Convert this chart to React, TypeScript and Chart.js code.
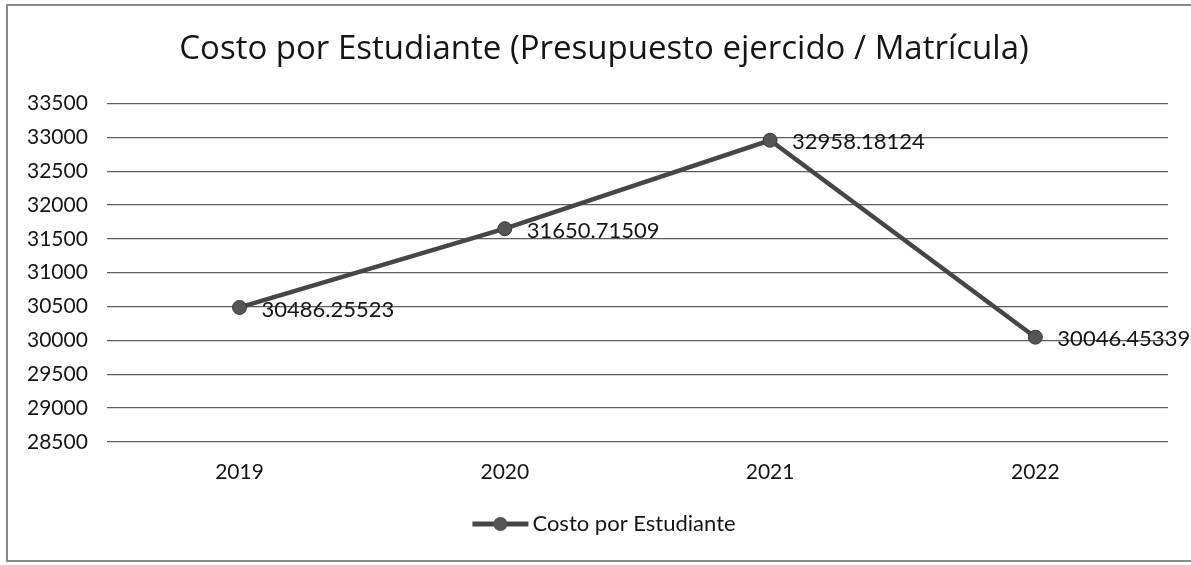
import React, { useEffect, useRef } from "react";
import { Chart, registerables } from "chart.js";

Chart.register(...registerables);

const TITLE = "Costo por Estudiante (Presupuesto ejercido / Matrícula)";
const SERIES_NAME = "Costo por Estudiante";
const YEARS = ["2019", "2020", "2021", "2022"];
const COSTS = [30486.25523, 31650.71509, 32958.18124, 30046.45339];
const COST_LABELS = ["30486.25523", "31650.71509", "32958.18124", "30046.45339"];
const Y_MIN = 28500;
const Y_MAX = 33500;
const Y_STEP = 500;

const FONT = "Lato, 'Open Sans', sans-serif";
const TITLE_FONT = "'Open Sans', Lato, sans-serif";
const LINE_COLOR = "#464646";
const TEXT_COLOR = "#151515";

const LEGEND_BOX = 49;
const LEGEND_FONT = 22;

const dataLabelPlugin = {
  id: "dataLabels",
  afterDatasetsDraw(chart: any) {
    const ctx = chart.ctx;
    const meta = chart.getDatasetMeta(0);
    ctx.save();
    ctx.font = `22px ${FONT}`;
    ctx.fillStyle = TEXT_COLOR;
    ctx.textAlign = "left";
    ctx.textBaseline = "middle";
    meta.data.forEach((pt: any, i: number) => {
      ctx.fillText(COST_LABELS[i], pt.x + 22, pt.y + 2);
    });
    ctx.restore();
  },
};

const legendMarkerPlugin = {
  id: "legendMarker",
  afterDraw(chart: any) {
    const lg = chart.legend;
    if (!lg || !lg.legendHitBoxes || !lg.legendHitBoxes.length) return;
    const hb = lg.legendHitBoxes[0];
    const ctx = chart.ctx;
    const cy = hb.top + hb.height / 2;
    const x0 = hb.left;
    const x1 = hb.left + LEGEND_BOX + LEGEND_FONT / 2 - 4;
    ctx.save();
    ctx.strokeStyle = LINE_COLOR;
    ctx.lineWidth = 5;
    ctx.beginPath();
    ctx.moveTo(x0, cy);
    ctx.lineTo(x1, cy);
    ctx.stroke();
    ctx.beginPath();
    ctx.arc((x0 + x1) / 2, cy, 7, 0, Math.PI * 2);
    ctx.fillStyle = "#555555";
    ctx.fill();
    ctx.restore();
  },
};

export default function App() {
  const canvasRef = useRef<HTMLCanvasElement | null>(null);

  useEffect(() => {
    document.body.style.margin = "0";
    if (!canvasRef.current) return;
    const chart = new Chart(canvasRef.current, {
      type: "line",
      data: {
        labels: YEARS,
        datasets: [
          {
            label: SERIES_NAME,
            data: COSTS,
            borderColor: LINE_COLOR,
            backgroundColor: LINE_COLOR,
            borderWidth: 4.5,
            pointRadius: 7,
            pointHoverRadius: 7,
            pointBackgroundColor: "#555555",
            pointBorderColor: "#3a3a3a",
            pointBorderWidth: 1,
            tension: 0,
          },
        ],
      },
      options: {
        animation: false,
        responsive: false,
        maintainAspectRatio: false,
        layout: { padding: { left: 8, right: 8, top: 22, bottom: 20 } },
        plugins: {
          title: {
            display: true,
            text: TITLE,
            color: TEXT_COLOR,
            font: { family: TITLE_FONT, size: 33, weight: "normal" },
            padding: { top: 8, bottom: 34 },
          },
          legend: {
            position: "bottom",
            labels: {
              color: TEXT_COLOR,
              font: { family: FONT, size: LEGEND_FONT },
              boxWidth: LEGEND_BOX,
              boxHeight: 4,
              padding: 10,
              generateLabels: () => [
                {
                  text: SERIES_NAME,
                  fillStyle: "rgba(0,0,0,0)",
                  strokeStyle: "rgba(0,0,0,0)",
                  lineWidth: 0,
                  hidden: false,
                  datasetIndex: 0,
                  fontColor: TEXT_COLOR,
                },
              ],
            },
          },
          tooltip: { enabled: false },
        },
        scales: {
          x: {
            offset: true,
            grid: { display: false, drawTicks: false },
            border: { display: false },
            ticks: {
              color: TEXT_COLOR,
              font: { family: FONT, size: 21 },
              padding: 18,
            },
          },
          y: {
            min: Y_MIN,
            max: Y_MAX,
            ticks: {
              stepSize: Y_STEP,
              color: TEXT_COLOR,
              font: { family: FONT, size: 21 },
              padding: 19,
              callback: (v: any) => String(v),
            },
            grid: { color: "#5e5e5e", lineWidth: 1.3, drawTicks: false },
            border: { display: false },
          },
          yRight: {
            position: "right",
            display: true,
            min: Y_MIN,
            max: Y_MAX,
            grid: { display: false, drawTicks: false },
            border: { display: false },
            ticks: { display: false },
            afterFit: (s: any) => {
              s.width = 32;
            },
          },
        },
      },
      plugins: [dataLabelPlugin, legendMarkerPlugin],
    });
    return () => chart.destroy();
  }, []);

  return (
    <div style={{ position: "relative", width: 1191, height: 565, overflow: "hidden", background: "#fff" }}>
      <div
        style={{
          position: "absolute",
          left: 6,
          top: 4,
          width: 1300,
          height: 558,
          borderLeft: "2px solid #8a8a8a",
          borderTop: "2px solid #8a8a8a",
          borderBottom: "2px solid #8a8a8a",
          boxSizing: "border-box",
        }}
      />
      <canvas ref={canvasRef} width={1208} height={565} style={{ position: "absolute", left: 0, top: 0 }} />
    </div>
  );
}
